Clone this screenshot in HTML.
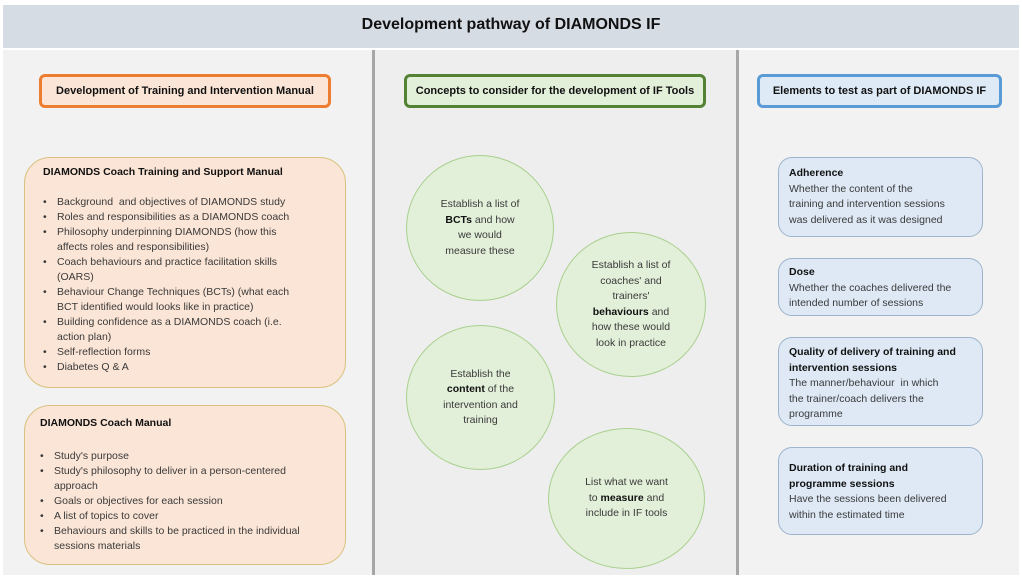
<!DOCTYPE html>
<html><head><meta charset="utf-8"><style>
body{margin:0;width:1022px;height:578px;background:#fff;position:relative;overflow:hidden;font-family:"Liberation Sans",sans-serif;color:#3a3a3a}
.a{position:absolute}
.t{position:absolute;white-space:nowrap;font-size:10.5px;line-height:15px}
b{color:#111}
.hdr{position:absolute;border-radius:6px;border:3px solid;font-weight:bold;font-size:11px;color:#111;display:flex;align-items:center;justify-content:center;box-sizing:border-box}
.circ{position:absolute;border-radius:50%;background:#e2efd9;border:1.5px solid #a9d08e;box-sizing:border-box;display:flex;align-items:center;justify-content:center;text-align:center;font-size:10.5px;line-height:15.5px}
.rb{position:absolute;left:778px;width:205px;background:#dee9f5;border:1.5px solid #9db4cc;border-radius:14px;box-sizing:border-box;padding:8px 10px;font-size:10.5px;line-height:15.5px}
</style></head><body>
<div class="a" style="left:3px;top:5px;width:1016px;height:43px;background:#d6dce4"></div>
<div class="a" style="left:3px;top:16px;width:1016px;text-align:center;font-size:16px;font-weight:bold;color:#111">Development pathway of DIAMONDS IF</div>
<div class="a" style="left:3px;top:50px;width:369px;height:525px;background:#f2f2f2"></div>
<div class="a" style="left:372px;top:50px;width:3px;height:525px;background:#a6a6a6"></div>
<div class="a" style="left:375px;top:50px;width:361px;height:525px;background:#eeeeee"></div>
<div class="a" style="left:736px;top:50px;width:3px;height:525px;background:#a6a6a6"></div>
<div class="a" style="left:739px;top:50px;width:280px;height:525px;background:#f2f2f2"></div>

<div class="hdr" style="left:39px;top:74px;width:292px;height:34px;border-color:#ed7d31;background:#fbe5d6">Development of Training and Intervention Manual</div>
<div class="hdr" style="left:404px;top:74px;width:302px;height:34px;border-color:#548235;background:#e2efd9">Concepts to consider for the development of IF Tools</div>
<div class="hdr" style="left:757px;top:74px;width:245px;height:34px;border-color:#5b9bd5;background:#deebf7">Elements to test as part of DIAMONDS IF</div>

<div class="a" style="left:24px;top:157px;width:322px;height:231px;background:#fbe5d6;border:1.5px solid #d9c27f;border-radius:26px;box-sizing:border-box"></div>
<div class="t" style="left:43px;top:165px;font-weight:bold;color:#111">DIAMONDS Coach Training and Support Manual</div>
<div class="t" style="left:43px;top:195px">•<br>•<br>•<br><br>•<br><br>•<br><br>•<br><br>•<br>•</div>
<div class="t" style="left:57px;top:195px">Background &nbsp;and objectives of DIAMONDS study<br>Roles and responsibilities as a DIAMONDS coach<br>Philosophy underpinning DIAMONDS (how this<br>affects roles and responsibilities)<br>Coach behaviours and practice facilitation skills<br>(OARS)<br>Behaviour Change Techniques (BCTs) (what each<br>BCT identified would looks like in practice)<br>Building confidence as a DIAMONDS coach (i.e.<br>action plan)<br>Self-reflection forms<br>Diabetes Q &amp; A</div>

<div class="a" style="left:24px;top:405px;width:322px;height:160px;background:#fbe5d6;border:1.5px solid #d9c27f;border-radius:26px;box-sizing:border-box"></div>
<div class="t" style="left:40px;top:416px;font-weight:bold;color:#111">DIAMONDS Coach Manual</div>
<div class="t" style="left:40px;top:449px">•<br>•<br><br>•<br>•<br>•</div>
<div class="t" style="left:54px;top:449px">Study's purpose<br>Study's philosophy to deliver in a person-centered<br>approach<br>Goals or objectives for each session<br>A list of topics to cover<br>Behaviours and skills to be practiced in the individual<br>sessions materials</div>

<div class="circ" style="left:406px;top:155px;width:148px;height:146px"><div>Establish a list of<br><b>BCTs</b> and how<br>we would<br>measure these</div></div>
<div class="circ" style="left:556px;top:232px;width:150px;height:145px"><div>Establish a list of<br>coaches' and<br>trainers'<br><b>behaviours</b> and<br>how these would<br>look in practice</div></div>
<div class="circ" style="left:406px;top:325px;width:149px;height:145px"><div>Establish the<br><b>content</b> of the<br>intervention and<br>training</div></div>
<div class="circ" style="left:548px;top:428px;width:157px;height:141px"><div>List what we want<br>to <b>measure</b> and<br>include in IF tools</div></div>

<div class="rb" style="top:157px;height:80px;padding-top:8px"><b>Adherence</b><br>Whether the content of the<br>training and intervention sessions<br>was delivered as it was designed</div>
<div class="rb" style="top:258px;height:58px;padding-top:6px"><b>Dose</b><br>Whether the coaches delivered the<br>intended number of sessions</div>
<div class="rb" style="top:337px;height:89px;padding-top:7px"><b>Quality of delivery of training and intervention sessions</b><br>The manner/behaviour &nbsp;in which<br>the trainer/coach delivers the<br>programme</div>
<div class="rb" style="top:447px;height:88px;padding-top:13px"><b>Duration of training and<br>programme sessions</b><br>Have the sessions been delivered<br>within the estimated time</div>
</body></html>
